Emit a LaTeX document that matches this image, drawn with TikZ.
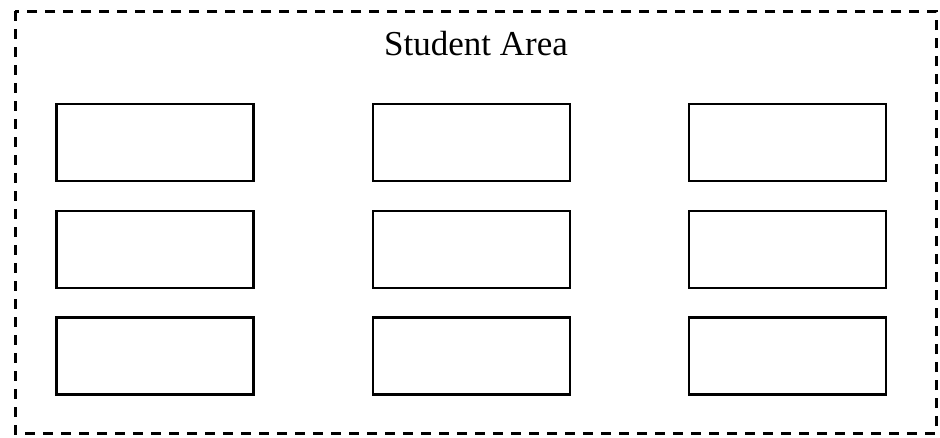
\documentclass[tikz,border=0pt]{standalone}
\usepackage{fontspec}
\setmainfont{Liberation Serif}
\tikzset{desk/.style={draw=black, line width=2.8pt, minimum width=197pt, minimum height=77pt, inner sep=0pt}}
\begin{document}
\begin{tikzpicture}[x=1pt,y=-1pt]
\useasboundingbox (0,0) rectangle (940,437);
\draw [black, line width=3pt, dash pattern=on 10pt off 8pt] (15,11) rectangle (936,433);
\node [anchor=base, font=\fontsize{35}{40}\selectfont] (title) at (476,55) {Student Area};

\foreach \c/\xx in {1/155,2/471.5,3/787.5}
  \foreach \r/\yy in {1/142.5,2/249.5,3/356}
    \node [desk] (desk-\r-\c) at (\xx,\yy) {};

\end{tikzpicture}
\end{document}
